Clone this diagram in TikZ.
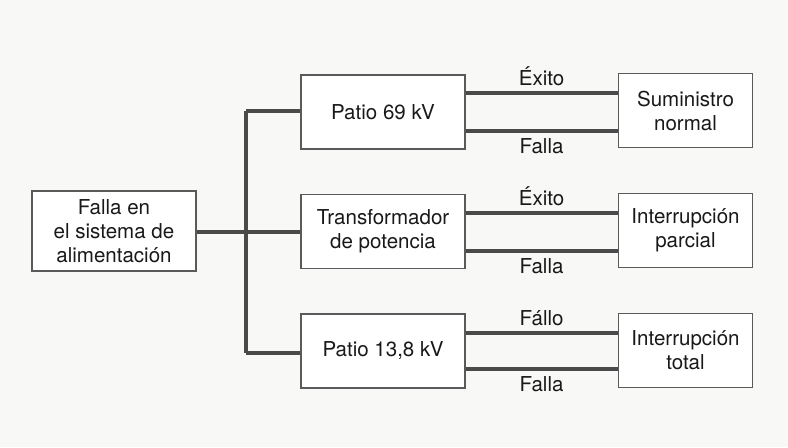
\documentclass[tikz,border=0pt]{standalone}
\usepackage{fontspec}
\setmainfont{TeX Gyre Heros}
\begin{document}
\begin{tikzpicture}[x=0.75pt,y=-0.75pt,
  box/.style={draw=boxgray,line width=0.9pt,fill=white,align=center,inner sep=0pt,
    font=\fontsize{15.4pt}{18pt}\selectfont,text=black!90},
  conn/.style={draw=linegray,line width=2.8pt},
  lbl/.style={font=\fontsize{15.4pt}{18pt}\selectfont,text=black!90,inner sep=0pt}]
\definecolor{boxgray}{HTML}{5A5A5A}
\definecolor{linegray}{HTML}{4A4A4A}
\definecolor{bg}{HTML}{F8F8F7}
\fill[bg] (0,0) rectangle (788,447);
\useasboundingbox (0,0) rectangle (788,447);
% nodes
\node[box,minimum width=123pt,minimum height=60pt] (src) at (114,231) {Falla en\\el sistema de\\alimentación};
\node[box,minimum width=123pt,minimum height=55.5pt] (p69) at (383,112) {Patio 69 kV};
\node[box,minimum width=123pt,minimum height=56pt] (tr) at (383,231.5) {Transformador\\de potencia};
\node[box,minimum width=123pt,minimum height=55.5pt] (p13) at (383,351) {Patio 13,8 kV};
\node[box,minimum width=101pt,minimum height=56pt] (r1) at (685.5,110.5) {Suministro\\normal};
\node[box,minimum width=101pt,minimum height=56pt] (r2) at (685.5,230.5) {Interrupción\\parcial};
\node[box,minimum width=101pt,minimum height=56pt] (r3) at (685.5,350.5) {Interrupción\\total};
% trunk
\coordinate (jt) at (246,111);
\coordinate (jm) at (246,232);
\coordinate (jb) at (246,353);
\draw[conn] (jt) -- (jb);
\draw[conn] (src.east |- jm) -- (jm);
\draw[conn] (jt) -- (p69.west |- jt);
\draw[conn] (jm) -- (tr.west |- jm);
\draw[conn] (jb) -- (p13.west |- jb);
% parallel connectors
\draw[conn] (p69.east |- 0,93) -- node[lbl,above=4pt] {Éxito} (r1.west |- 0,93);
\draw[conn] (p69.east |- 0,131) -- node[lbl,below=4pt] {Falla} (r1.west |- 0,131);
\draw[conn] (tr.east |- 0,213) -- node[lbl,above=4pt] {Éxito} (r2.west |- 0,213);
\draw[conn] (tr.east |- 0,251) -- node[lbl,below=4pt] {Falla} (r2.west |- 0,251);
\draw[conn] (p13.east |- 0,333) -- node[lbl,above=4pt] {Fállo} (r3.west |- 0,333);
\draw[conn] (p13.east |- 0,369) -- node[lbl,below=4pt] {Falla} (r3.west |- 0,369);
\end{tikzpicture}
\end{document}
